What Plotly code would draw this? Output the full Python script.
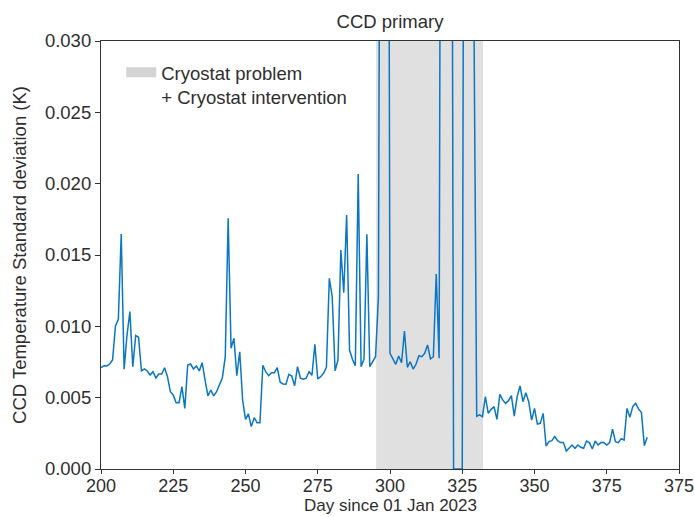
import plotly.graph_objects as go

# ---- data ----
start_day = 200
std_values = [
    0.00710, 0.00724, 0.00722, 0.00736, 0.00764, 0.01002, 0.01049, 0.01647, 0.00699, 0.00939,
    0.01103, 0.00717, 0.00935, 0.00923, 0.00687, 0.00701, 0.00687, 0.00659, 0.00682, 0.00638,
    0.00666, 0.00666, 0.00710, 0.00647, 0.00542, 0.00519, 0.00465, 0.00465, 0.00577, 0.00425,
    0.00729, 0.00736, 0.00701, 0.00722, 0.00687, 0.00745, 0.00624, 0.00512, 0.00554, 0.00512,
    0.00542, 0.00589, 0.00640, 0.00787, 0.01757, 0.00846, 0.00916, 0.00654, 0.00822, 0.00484,
    0.00348, 0.00386, 0.00297, 0.00360, 0.00325, 0.00325, 0.00727, 0.00682, 0.00654, 0.00675,
    0.00675, 0.00710, 0.00608, 0.00596, 0.00594, 0.00664, 0.00652, 0.00584, 0.00717, 0.00636,
    0.00629, 0.00636, 0.00682, 0.00657, 0.00874, 0.00631, 0.00647, 0.00671, 0.00713, 0.01337,
    0.01208, 0.00689, 0.00764, 0.01535, 0.01236, 0.01780, 0.00834, 0.00769, 0.00724, 0.02068,
    0.00717, 0.00771, 0.01645, 0.00717, 0.00752, 0.00787, 0.01210, 0.08000, 0.10000, 0.09000,
    0.00811, 0.00776, 0.00734, 0.00792, 0.00745, 0.00967, 0.00713, 0.00752, 0.00701, 0.00734,
    0.00794, 0.00787, 0.00811, 0.00869, 0.00771, 0.00787, 0.01367, 0.00776, 0.09000, 0.12000,
    0.10000, 0.08000, 0.00000, 0.00000, 0.00000, 0.00000, 0.09000, 0.11000, 0.08000, 0.03300,
    0.00370, 0.00380, 0.00367, 0.00507, 0.00390, 0.00418, 0.00437, 0.00348, 0.00523, 0.00484,
    0.00460, 0.00479, 0.00514, 0.00371, 0.00507, 0.00582, 0.00472, 0.00535, 0.00472, 0.00343,
    0.00425, 0.00315, 0.00320, 0.00390, 0.00161, 0.00192, 0.00199, 0.00227, 0.00199, 0.00185,
    0.00185, 0.00126, 0.00145, 0.00168, 0.00145, 0.00168, 0.00152, 0.00145, 0.00196, 0.00185,
    0.00140, 0.00196, 0.00168, 0.00185, 0.00185, 0.00168, 0.00185, 0.00280, 0.00192, 0.00185,
    0.00213, 0.00203, 0.00425, 0.00362, 0.00437, 0.00460, 0.00421, 0.00395, 0.00164, 0.00222,
]
days = [start_day + i for i in range(len(std_values))]

problem_start = 295.2
problem_end = 332.2

x_tickvals = [200, 225, 250, 275, 300, 325, 350, 375, 400]
x_ticktext = ["200", "225", "250", "275", "300", "325", "350", "375", "375"]
y_tickvals = [0.000, 0.005, 0.010, 0.015, 0.020, 0.025, 0.030]

FONT = "Liberation Sans, Arial, Helvetica, sans-serif"
TXT = "#2e2e2e"
AX = "#333333"
FS = 18.5

fig = go.Figure()

# shaded interval (through axis coordinates)
fig.add_trace(go.Scatter(
    x=[problem_start, problem_end, problem_end, problem_start, problem_start],
    y=[0, 0, 0.03, 0.03, 0],
    fill="toself", fillcolor="#e0e0e0", mode="none",
    hoverinfo="skip", showlegend=False,
))
# legend entry for the shaded interval
fig.add_trace(go.Scatter(
    x=[None], y=[None], mode="lines",
    line=dict(color="#d4d4d4", width=12),
    name="Cryostat problem<br>+ Cryostat intervention",
    showlegend=True,
))
# data line
fig.add_trace(go.Scatter(
    x=days, y=std_values, mode="lines",
    line=dict(color="#0a76c4", width=1.5),
    showlegend=False,
))

axis_common = dict(
    showgrid=False, zeroline=False, automargin=False,
    showline=True, linecolor=AX, linewidth=1.2, mirror=True,
    ticks="outside", tickwidth=1.2, tickcolor=AX,
)

fig.update_layout(
    width=695, height=517,
    margin=dict(l=101, r=16, t=41, b=48, autoexpand=False),
    paper_bgcolor="white", plot_bgcolor="white",
    font=dict(family=FONT, size=FS, color=TXT),
    title=dict(text="CCD primary", x=0.5, xref="paper", xanchor="center",
               y=1, yref="paper", yanchor="bottom", pad=dict(b=13),
               font=dict(family=FONT, size=FS, color=TXT)),
    xaxis=dict(range=[200, 400], tickvals=x_tickvals, ticktext=x_ticktext,
               ticklen=4, ticklabelstandoff=-4,
               tickfont=dict(family=FONT, size=18, color=TXT),
               **axis_common),
    yaxis=dict(range=[0, 0.030], tickvals=y_tickvals, tickformat=".3f",
               ticklen=5, tickfont=dict(family=FONT, size=FS, color=TXT),
               title=dict(text="CCD Temperature Standard deviation (K)", standoff=13,
                          font=dict(family=FONT, size=FS, color=TXT)),
               **axis_common),
    legend=dict(x=0.035, y=0.97, xanchor="left", yanchor="top",
                bgcolor="rgba(0,0,0,0)", valign="top",
                font=dict(family=FONT, size=FS, color=TXT)),
    annotations=[dict(
        text="Day since 01 Jan 2023", xref="paper", yref="paper",
        x=0.5, y=0, xanchor="center", yanchor="bottom", yshift=-47,
        showarrow=False, borderpad=0,
        font=dict(family=FONT, size=17, color=TXT),
    )],
)

fig.write_html("out.html")
